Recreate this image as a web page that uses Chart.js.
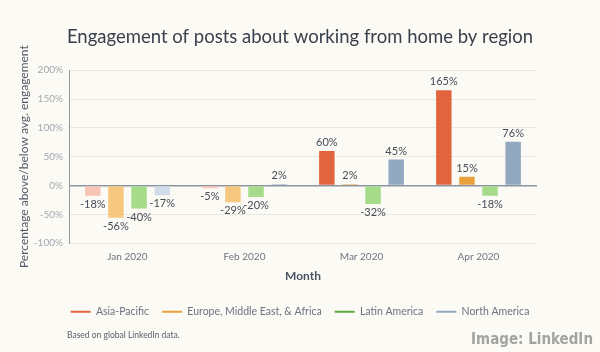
<!DOCTYPE html>
<html>
<head>
<meta charset="utf-8">
<script src="https://cdn.jsdelivr.net/npm/chart.js@4"></script>
<style>
  html, body { margin: 0; padding: 0; background: #fcfaf5; }
  #wrap { position: relative; width: 600px; height: 352px; }
</style>
</head>
<body>
<div id="wrap"><canvas id="engagementChart"></canvas></div>
<script>
// Data
const months = ["Jan 2020", "Feb 2020", "Mar 2020", "Apr 2020"];
const asiaPacific = [-18, -5, 60, 165];
const europeMEA = [-56, -29, 2, 15];
const latinAmerica = [-40, -20, -32, -18];
const northAmerica = [-17, 2, 45, 76];
const yTicks = [-100, -50, 0, 50, 100, 150, 200];

const FONT = "Lato, 'Open Sans', sans-serif";

// bars below average are drawn in a paler tint
function series(label, data, full, faded) {
  return {
    label: label,
    data: data,
    legendColor: full,
    backgroundColor: (ctx) => (ctx.raw < 0 ? faded : full),
    borderWidth: 0,
    categoryPercentage: 0.79,
    barPercentage: 0.67,
  };
}

// Labels above / below the bars
const valueLabels = {
  id: "valueLabels",
  afterDatasetsDraw(chart) {
    const ctx = chart.ctx;
    ctx.save();
    ctx.font = "11px " + FONT;
    ctx.fillStyle = "#454c57";
    ctx.textAlign = "center";
    chart.data.datasets.forEach((ds, i) => {
      chart.getDatasetMeta(i).data.forEach((bar, j) => {
        const v = ds.data[j];
        if (v >= 0) {
          ctx.textBaseline = "bottom";
          ctx.fillText(v + "%", bar.x, bar.y - 3);
        } else {
          ctx.textBaseline = "top";
          ctx.fillText(v + "%", bar.x, bar.y + 3);
        }
      });
    });
    ctx.restore();
  },
};

// Footnote and image credit
const footer = {
  id: "footer",
  afterDraw(chart) {
    const ctx = chart.ctx;
    ctx.save();
    ctx.font = "8.5px " + FONT;
    ctx.fillStyle = "#5b616b";
    ctx.textAlign = "left";
    ctx.textBaseline = "middle";
    ctx.fillText("Based on global LinkedIn data.", 67, 335);
    ctx.font = "bold 15px 'Liberation Sans Narrow', 'DejaVu Sans Condensed', sans-serif";
    ctx.fillStyle = "#a3a3a3";
    ctx.textAlign = "right";
    ctx.fillText("Image: LinkedIn", 593, 340);
    ctx.restore();
  },
};

const ctx = document.getElementById("engagementChart").getContext("2d");
new Chart(ctx, {
  type: "bar",
  data: {
    labels: months,
    datasets: [
      series("Asia-Pacific", asiaPacific, "#e2643f", "#f8c4b6"),
      series("Europe, Middle East, & Africa", europeMEA, "#e8a13c", "#f6c77e"),
      series("Latin America", latinAmerica, "#5fa73f", "#a6dc89"),
      series("North America", northAmerica, "#92a8c1", "#d1dcea"),
    ],
  },
  options: {
    responsive: true,
    maintainAspectRatio: false,
    animation: false,
    layout: { padding: { left: 0, right: 0, top: 0, bottom: 25 } },
    plugins: {
      title: {
        display: true,
        text: "Engagement of posts about working from home by region",
        color: "#3a414d",
        font: { family: FONT, size: 18.5, weight: "normal" },
        padding: { top: 26, bottom: 22 },
      },
      legend: {
        position: "bottom",
        labels: {
          usePointStyle: true,
          pointStyle: "line",
          pointStyleWidth: 20,
          padding: 13,
          color: "#6a7280",
          font: { family: FONT, size: 10.5 },
          generateLabels(chart) {
            return chart.data.datasets.map((ds, i) => ({
              text: ds.label,
              fillStyle: ds.legendColor,
              strokeStyle: ds.legendColor,
              lineWidth: 2,
              pointStyle: "line",
              fontColor: "#6a7280",
              datasetIndex: i,
              hidden: false,
            }));
          },
        },
      },
      tooltip: { enabled: false },
    },
    scales: {
      x: {
        grid: { display: false, drawTicks: false },
        border: { display: false },
        ticks: { color: "#6d7480", font: { family: FONT, size: 10 }, padding: 8 },
        title: {
          display: true,
          text: "Month",
          color: "#4a5261",
          font: { family: FONT, size: 12, weight: "bold" },
          padding: { top: -2, bottom: 10 },
        },
      },
      y: {
        min: yTicks[0],
        max: yTicks[yTicks.length - 1],
        afterBuildTicks(axis) {
          axis.ticks = yTicks.map((v) => ({ value: v }));
        },
        afterFit(scale) {
          scale.width = 69;
        },
        border: { display: true, color: "#8e97a2", width: 1 },
        grid: {
          color: (c) => (c.tick && c.tick.value === 0 ? "#8b95a1" : "#ebe8e2"),
          lineWidth: (c) => (c.tick && c.tick.value === 0 ? 1.5 : 1),
          drawTicks: false,
        },
        ticks: {
          color: "#a2a8b0",
          font: { family: FONT, size: 10 },
          padding: 6,
          callback: (v) => v + "%",
        },
        title: {
          display: true,
          text: "Percentage above/below avg. engagement",
          color: "#4f5866",
          font: { family: FONT, size: 12 },
          padding: { top: 17, bottom: 0 },
        },
      },
      // empty right-hand axis that only holds the space right of the plot
      spacer: {
        type: "linear",
        position: "right",
        display: true,
        grid: { display: false, drawTicks: false },
        border: { display: false },
        ticks: { display: false },
        afterFit(scale) {
          scale.width = 63;
        },
      },
    },
  },
  plugins: [valueLabels, footer],
});
</script>
</body>
</html>
